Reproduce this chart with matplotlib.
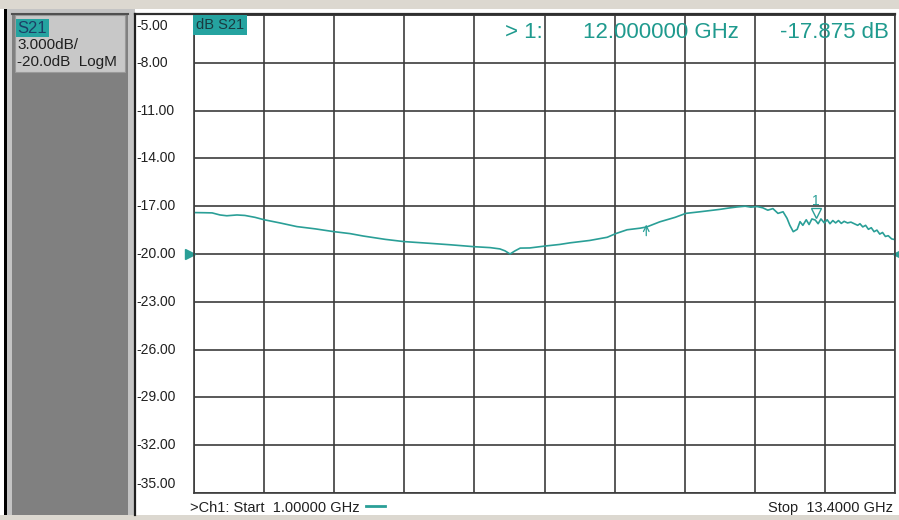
import matplotlib.pyplot as plt
from matplotlib.patches import Rectangle
from matplotlib.lines import Line2D
from matplotlib import transforms

frecuencias = [
    1.00, 1.19, 1.32, 1.46, 1.58, 1.76, 1.90, 2.08, 2.24, 2.52,
    2.82, 3.14, 3.48, 3.76, 3.99, 4.38, 4.71, 5.17, 5.53, 5.95,
    6.24, 6.41, 6.50, 6.59, 6.68, 6.77, 6.94, 7.21, 7.47, 7.65,
    8.00, 8.31, 8.46, 8.66, 8.89, 9.01, 9.24, 9.51, 9.70, 9.95,
    10.30, 10.45, 10.60, 10.75, 10.85, 10.96, 11.06, 11.15, 11.24, 11.33,
    11.42, 11.49, 11.54, 11.60, 11.67, 11.72, 11.77, 11.83, 11.88, 11.93,
    11.99, 12.04, 12.09, 12.15, 12.20, 12.25, 12.30, 12.35, 12.40, 12.45,
    12.50, 12.56, 12.62, 12.68, 12.74, 12.78, 12.83, 12.88, 12.93, 12.98,
    13.03, 13.08, 13.13, 13.18, 13.23, 13.28, 13.34, 13.40,
]
s21_db = [
    -17.40, -17.41, -17.42, -17.55, -17.60, -17.55, -17.58, -17.70, -17.85, -18.05,
    -18.28, -18.42, -18.60, -18.72, -18.87, -19.08, -19.22, -19.33, -19.42, -19.54,
    -19.60, -19.68, -19.80, -20.00, -19.80, -19.63, -19.62, -19.50, -19.40, -19.30,
    -19.15, -18.95, -18.72, -18.48, -18.38, -18.30, -17.98, -17.70, -17.45, -17.35,
    -17.20, -17.12, -17.05, -17.00, -17.06, -17.02, -17.10, -17.25, -17.15, -17.45,
    -17.35, -17.76, -18.20, -18.60, -18.45, -17.97, -18.20, -17.85, -18.15, -17.80,
    -17.87, -18.10, -17.80, -18.05, -17.85, -18.10, -17.90, -18.05, -17.90, -18.08,
    -17.95, -18.05, -18.00, -18.10, -18.20, -18.10, -18.30, -18.20, -18.45, -18.35,
    -18.60, -18.50, -18.75, -18.65, -18.90, -18.85, -19.05, -19.10,
]

f_inicio = 1.0
f_fin = 13.4
marcador_f = 12.0
marcador_db = -17.875
estimulo_f = 9.0
nivel_ref = -20.0
etiquetas_y = ["-5.00", "-8.00", "-11.00", "-14.00", "-17.00", "-20.00",
               "-23.00", "-26.00", "-29.00", "-32.00", "-35.00"]
valores_y = [-5, -8, -11, -14, -17, -20, -23, -26, -29, -32, -35]

W, H = 899, 520
TEAL = "#2a9f97"
TEAL_TXT = "#1f9a8e"
TEAL_FONDO = "#25a3a0"
GRID = "#3c3c3c"
FUENTE = "Liberation Sans"


def caja(fig, x, y, w, h, color, **kw):
    """rectangulo en pixeles con origen arriba a la izquierda"""
    fig.add_artist(Rectangle((x / W, 1 - (y + h) / H), w / W, h / H,
                             transform=fig.transFigure, facecolor=color,
                             edgecolor=kw.pop("ec", "none"), lw=kw.pop("lw", 0),
                             zorder=kw.pop("zorder", -10), **kw))


def linea(fig, x0, y0, x1, y1, color=GRID, lw=1.2):
    fig.add_artist(Line2D([x0 / W, x1 / W], [1 - y0 / H, 1 - y1 / H],
                          transform=fig.transFigure, color=color, lw=lw))


def texto(fig, x, y, s, **kw):
    fig.text(x / W, 1 - y / H, s, family=FUENTE, **kw)


fig = plt.figure(figsize=(W / 100, H / 100), dpi=100)
fig.patch.set_facecolor("white")

# marco de la ventana
caja(fig, 0, 0, W, 9, "#dcd8d0")
caja(fig, 0, 515, W, 5, "#dcd8d0")
caja(fig, 4, 9, 3, 506, "#000000")
caja(fig, 7, 9, 128, 506, "#c4c4c4")
caja(fig, 12, 14, 116, 501, "#808080")
caja(fig, 135, 11, W - 135, 504, "white")
linea(fig, 12, 13.5, 128, 13.5, "#505050", 1.5)
linea(fig, 135, 14, 895, 14, "#303030", 1.6)
linea(fig, 135, 14, 135, 515, "#202020", 1.6)

# cuadro de informacion de la traza
caja(fig, 15, 15, 110, 57, "#c8c8c8", ec="#9a9a9a", lw=0.8, zorder=-5)
caja(fig, 16, 19, 33, 18, TEAL_FONDO, zorder=-4)
texto(fig, 17, 28.5, "S21", fontsize=12, color="#1c3f66", va="center")
texto(fig, 17, 45, "3.000dB/", fontsize=11, color="#202020", va="center")
texto(fig, 17, 62, "-20.0dB  LogM", fontsize=11, color="#202020", va="center")

# ejes principales
ax = fig.add_axes([194 / W, (H - 493) / H, 701 / W, 478 / H])
ax.patch.set_alpha(0)
ax.plot(frecuencias, s21_db, color=TEAL, lw=1.2)
ax.set_xlim(f_inicio, f_fin)
ax.set_ylim(-35, -5)
paso = (f_fin - f_inicio) / 10
ax.set_xticks([f_inicio + i * paso for i in range(11)])
ax.set_yticks(valores_y)
ax.grid(True, color=GRID, lw=1.2)
ax.set_axisbelow(True)
ax.tick_params(length=0, labelleft=False, labelbottom=False)
for lado in ax.spines.values():
    lado.set_color(GRID)
    lado.set_linewidth(1.2)

# etiquetas del eje y alineadas a la izquierda
trans_y = transforms.blended_transform_factory(fig.transFigure, ax.transData)
for v, et in zip(valores_y, etiquetas_y):
    if v == -5:
        va, dy = "top", -0.25
    elif v == -35:
        va, dy = "bottom", 0.15
    else:
        va, dy = "center", 0.0
    ax.text(136 / W, v + dy, et, transform=trans_y, ha="left", va=va,
            fontsize=10, family=FUENTE, color="#202020", clip_on=False)

# marcador 1
arriba = transforms.offset_copy(ax.transData, fig=fig, y=7, units="dots")
ax.plot([marcador_f], [marcador_db], marker="v", ms=7, mfc="none", mec=TEAL,
        mew=1.0, transform=arriba)
ax.text(marcador_f, marcador_db, "1", transform=transforms.offset_copy(
    ax.transData, fig=fig, y=12, units="dots"), ha="center", va="bottom",
    fontsize=10, color=TEAL, family=FUENTE)

# flecha de estimulo
ax.annotate("", xy=(estimulo_f, -18.15), xytext=(estimulo_f, -18.85),
            arrowprops=dict(arrowstyle="->", color=TEAL, lw=0.9,
                            shrinkA=0, shrinkB=0))

# triangulos del nivel de referencia
izq = transforms.offset_copy(ax.transData, fig=fig, x=-4, units="dots")
der = transforms.offset_copy(ax.transData, fig=fig, x=3, units="dots")
ax.plot([f_inicio], [nivel_ref], marker=">", ms=7, color=TEAL, transform=izq,
        clip_on=False)
ax.plot([f_fin], [nivel_ref], marker="<", ms=7, color=TEAL, transform=der,
        clip_on=False)

# cabecera del marcador
texto(fig, 196, 25, "dB S21", fontsize=10.5, color="#1a3a40", va="center",
      bbox=dict(boxstyle="square,pad=0.2", fc=TEAL_FONDO, ec="none"))
texto(fig, 543, 33, "> 1:", fontsize=16, color=TEAL_TXT, ha="right", va="center")
texto(fig, 739, 33, "12.000000 GHz", fontsize=16, color=TEAL_TXT, ha="right", va="center")
texto(fig, 889, 33, "-17.875 dB", fontsize=16, color=TEAL_TXT, ha="right", va="center")

# pie
texto(fig, 190, 508, ">Ch1: Start  1.00000 GHz", fontsize=10.5, color="#202020", va="center")
linea(fig, 366, 506, 385, 506, TEAL, 2.0)
texto(fig, 893, 508, "Stop  13.4000 GHz", fontsize=10.5, color="#202020", ha="right", va="center")

fig.savefig("out.png", dpi=100, facecolor=fig.get_facecolor())
